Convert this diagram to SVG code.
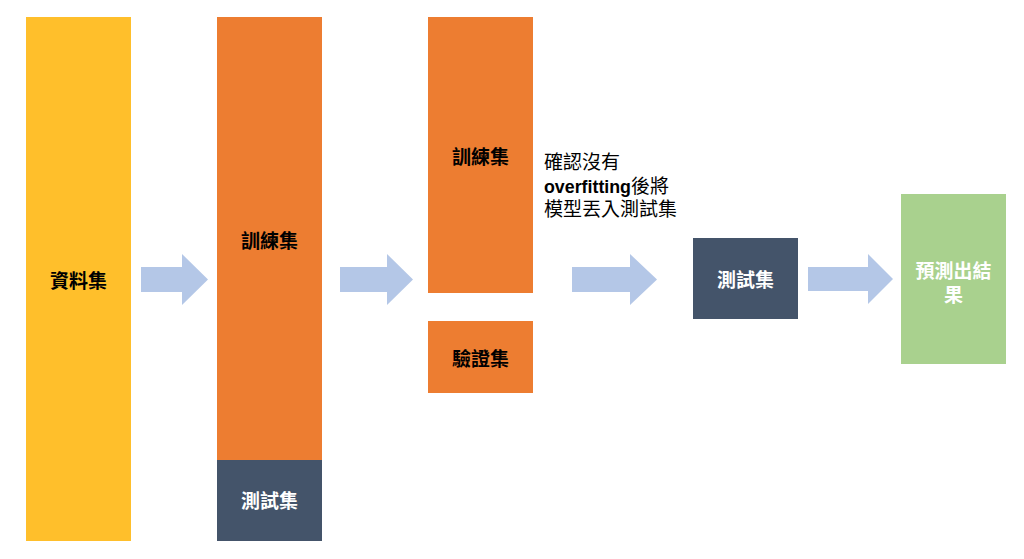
<svg xmlns="http://www.w3.org/2000/svg" width="1024" height="559" viewBox="0 0 1024 559">
<style>
text{font-family:"Noto Sans CJK TC","Noto Sans CJK SC",sans-serif;font-size:19px;font-weight:bold;text-anchor:middle;dominant-baseline:central}
.dk{fill:#000}
.wt{fill:#fff}
.note{font-family:"Liberation Sans","Noto Sans CJK TC",sans-serif;font-size:19px;font-weight:normal;text-anchor:start;fill:#000;dominant-baseline:auto}
.arr{fill:#B4C7E7}
</style>
<rect width="1024" height="559" fill="#fff"/>
<g id="dataset"><rect x="26" y="17" width="105" height="524" fill="#FFBF2B"/><text class="dk" x="78.5" y="279">資料集</text></g>
<g id="train1"><rect x="217" y="17" width="105" height="443" fill="#ED7D31"/><text class="dk" x="269.5" y="239">訓練集</text></g>
<g id="test1"><rect x="217" y="460" width="105" height="81" fill="#44546A"/><text class="wt" x="269.5" y="499">測試集</text></g>
<g id="train2"><rect x="428" y="17" width="105" height="276" fill="#ED7D31"/><text class="dk" x="480.5" y="155">訓練集</text></g>
<g id="valid"><rect x="428" y="321" width="105" height="72" fill="#ED7D31"/><text class="dk" x="480.5" y="357">驗證集</text></g>
<g id="note"><text class="note" x="544" y="169">確認沒有</text><text class="note" x="544" y="193"><tspan font-weight="bold" textLength="87" lengthAdjust="spacingAndGlyphs">overfitting</tspan>後將</text><text class="note" x="544" y="216">模型丟入測試集</text></g>
<g id="test2"><rect x="693" y="238" width="105" height="81" fill="#44546A"/><text class="wt" x="745.5" y="278">測試集</text></g>
<g id="result"><rect x="901" y="194" width="105" height="170" fill="#A9D18E"/><text class="wt" x="953.5" y="269">預測出結</text><text class="wt" x="953.5" y="293">果</text></g>
<g id="connectors">
<polygon class="arr" points="141,267 182,267 182,254 208,279.5 182,305 182,292 141,292"/>
<polygon class="arr" points="340,267 387,267 387,254 413,279.5 387,305 387,292 340,292"/>
<polygon class="arr" points="572,267 630,267 630,254 657,279.5 630,305 630,292 572,292"/>
<polygon class="arr" points="808,267 868,267 868,254 893,279 868,304 868,291 808,291"/>
</g>
</svg>
